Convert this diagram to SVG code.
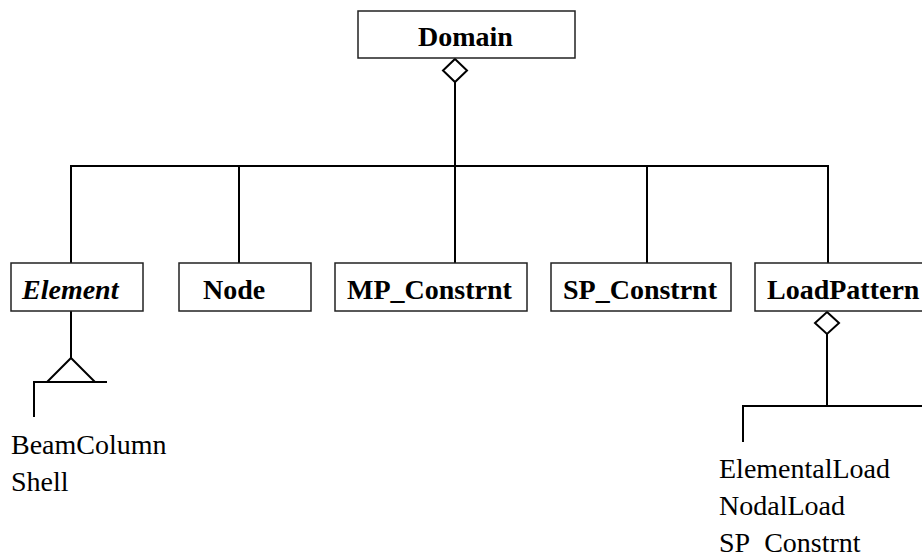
<svg xmlns="http://www.w3.org/2000/svg" width="922" height="554" viewBox="0 0 922 554">
<style>
.box{fill:#fff;stroke:#222;stroke-width:1.5}
.ln{fill:none;stroke:#000;stroke-width:2}
.b{font-family:"Liberation Serif","Times New Roman",serif;font-size:28px;font-weight:bold;fill:#000}
.bi{font-style:italic}
.r{font-family:"Liberation Serif","Times New Roman",serif;font-size:28px;fill:#000}
</style>
<rect width="922" height="554" fill="#fff"/>
<g id="connectors">
<polygon class="ln" points="455,59 467,70.5 455,82 443,70.5"/>
<line class="ln" x1="455" y1="82" x2="455" y2="166"/>
<line class="ln" x1="70" y1="166" x2="829" y2="166"/>
<line class="ln" x1="71" y1="166" x2="71" y2="263"/>
<line class="ln" x1="239" y1="166" x2="239" y2="263"/>
<line class="ln" x1="455" y1="166" x2="455" y2="263"/>
<line class="ln" x1="647" y1="166" x2="647" y2="263"/>
<line class="ln" x1="828" y1="166" x2="828" y2="263"/>
<line class="ln" x1="71" y1="311" x2="71" y2="358"/>
<polygon class="ln" points="71,358 95,382 47,382"/>
<polyline class="ln" points="107,382 34,382 34,417"/>
<polygon class="ln" points="827,312 839,323 827,334 815,323"/>
<line class="ln" x1="827" y1="334" x2="827" y2="406"/>
<polyline class="ln" points="930,406 743,406 743,442"/>
</g>
<g id="domain">
<rect class="box" x="358" y="11" width="217" height="47"/>
<text class="b" x="418" y="46">Domain</text>
</g>
<g id="element">
<rect class="box" x="11" y="263" width="132" height="48"/>
<text class="b bi" x="22" y="299">Element</text>
</g>
<g id="node">
<rect class="box" x="179" y="263" width="132" height="48"/>
<text class="b" x="203" y="299">Node</text>
</g>
<g id="mp">
<rect class="box" x="335" y="263" width="192" height="48"/>
<text class="b" x="347" y="299">MP_Constrnt</text>
</g>
<g id="sp">
<rect class="box" x="551" y="263" width="180" height="48"/>
<text class="b" x="563" y="299">SP_Constrnt</text>
</g>
<g id="loadpattern">
<rect class="box" x="755" y="263" width="190" height="48"/>
<text class="b" x="767" y="299">LoadPattern</text>
</g>
<g id="element-subclasses">
<text class="r" x="11" y="454">BeamColumn</text>
<text class="r" x="11" y="491">Shell</text>
</g>
<g id="load-subclasses">
<text class="r" x="719" y="478">ElementalLoad</text>
<text class="r" x="719" y="515">NodalLoad</text>
<text class="r" x="719" y="552">SP_Constrnt</text>
</g>
</svg>
